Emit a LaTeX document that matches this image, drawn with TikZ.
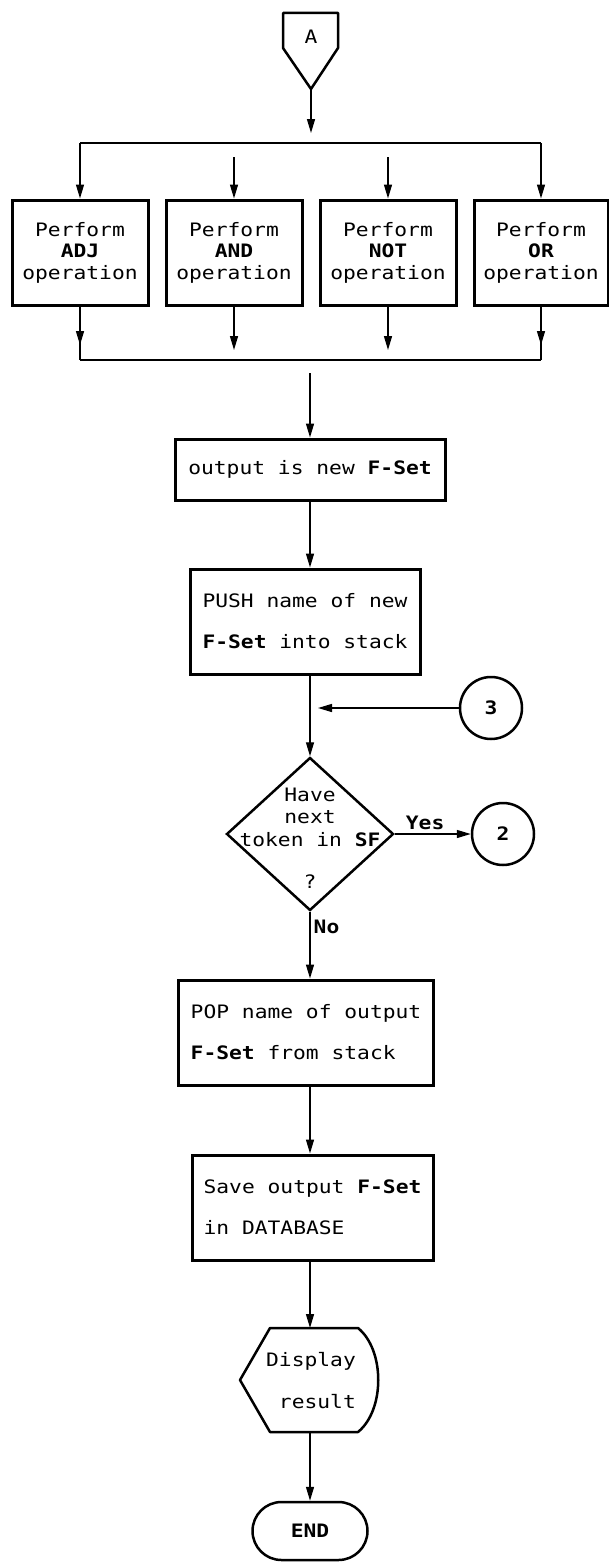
\documentclass[tikz,border=0pt]{standalone}
\usepackage{fontspec}
\newfontfamily\dm[FakeStretch=1.15]{DejaVu Sans Mono}
\usetikzlibrary{arrows.meta,shapes.geometric,shapes.misc}
\begin{document}
\begin{tikzpicture}[x=1pt,y=1pt,
  conn/.style={line width=1.4pt},
  arr/.style={conn,-{Triangle[length=14pt,width=8pt]}},
  shapeline/.style={line width=2.5pt,line join=round},
  opbox/.style={draw,line width=3pt,minimum width=136pt,minimum height=105pt,inner sep=0pt,align=center,font=\dm\fontsize{18.5}{21.5}\selectfont},
  twobox/.style={draw,line width=3pt,minimum height=105pt,inner sep=0pt,align=left,font=\dm\fontsize{18.5}{41}\selectfont},
  onebox/.style={draw,line width=3pt,minimum height=61pt,inner sep=0pt,align=center,font=\dm\fontsize{18.5}{22}\selectfont},
  conncircle/.style={circle,draw,line width=2.5pt,minimum size=62pt,inner sep=0pt,font=\dm\bfseries\fontsize{18.5}{20}\selectfont},
  lbl/.style={font=\dm\bfseries\fontsize{18.5}{20}\selectfont,inner sep=2pt},
  plain/.style={font=\dm\fontsize{18.5}{22}\selectfont,inner sep=0pt}
]
\useasboundingbox (0,0) rectangle (609,-1563);
\coordinate (spine) at (310,0);

% off-page connector A
\draw[shapeline] (283,-13) -- (338,-13) -- (338,-48) -- (311,-89) -- (283,-48) -- cycle;
\node[plain] (A) at (311,-37) {A};
\coordinate (Ap) at (311,-89);

% top bus
\coordinate (busL) at (80,-143);
\coordinate (busR) at (541,-143);
\draw[conn] (busL) -- (busR);
\draw[arr,shorten >=10pt] (Ap) -- (Ap |- busL);

% operation boxes
\node[opbox] (b1) at (80,-252.5) {Perform\\\textbf{ADJ}\\operation};
\node[opbox] (b2) at (234,-252.5) {Perform\\\textbf{AND}\\operation};
\node[opbox] (b3) at (388,-252.5) {Perform\\\textbf{NOT}\\operation};
\node[opbox,minimum width=134pt] (b4) at (541,-252.5) {Perform\\\textbf{OR}\\operation};

\draw[arr] (busL) -- (b1.north);
\draw[arr] (busR) -- (b4.north);
\draw[arr,shorten <=14pt] (b2.north |- busL) -- (b2.north);
\draw[arr,shorten <=14pt] (b3.north |- busL) -- (b3.north);

% bottom bus
\coordinate (busL2) at (80,-360);
\coordinate (busR2) at (541,-360);
\draw[conn] (busL2) -- (busR2);
\draw[conn] (b1.south) -- (busL2);
\draw[arr,shorten >=15pt] (b1.south) -- (busL2);
\draw[conn] (b4.south) -- (busR2);
\draw[arr,shorten >=15pt] (b4.south) -- (busR2);
\draw[arr,shorten >=10pt] (b2.south) -- (b2.south |- busL2);
\draw[arr,shorten >=10pt] (b3.south) -- (b3.south |- busL2);

% output box
\node[onebox,minimum width=270pt] (out) at (310,-469.5) {output is new \textbf{F-Set}};
\draw[arr,shorten <=13pt] (out.north |- busL2) -- (out.north);

% push box
\node[twobox,minimum width=230pt] (push) at (305,-621.5) {PUSH name of new\\\textbf{F-Set} into stack};
\draw[arr] (out.south) -- (out.south |- push.north);

% decision
\node[diamond,draw,line width=2.5pt,minimum width=167pt,minimum height=153pt,inner sep=0pt] (dec) at (310,-834) {};
\node[plain,align=center,font=\dm\fontsize{18.5}{22.5}\selectfont] (dect) at (310,-838) {Have\\next\\token in \textbf{SF}\\[20pt]?};
\draw[arr] (push.south -| spine) -- (dec.north);

% connector 3
\node[conncircle] (c3) at (491,-708) {3};
\draw[arr,shorten >=8pt] (c3.west) -- (c3.west -| spine);

% connector 2
\node[conncircle] (c2) at (503,-834) {2};
\draw[arr] (dec.east) -- node[lbl,above,pos=0.4,yshift=2pt] {Yes} (c2.west);

% pop box
\node[twobox,minimum width=255pt] (pop) at (306,-1032.5) {POP name of output\\\textbf{F-Set} from stack};
\draw[arr] (dec.south) -- node[lbl,right,pos=0.22,xshift=1pt] {No} (dec.south |- pop.north);

% save box
\node[twobox,minimum width=241pt] (save) at (312.5,-1207.5) {Save output \textbf{F-Set}\\in DATABASE};
\draw[arr] (pop.south -| spine) -- (save.north -| spine);

% display
\draw[shapeline] (270,-1328) -- (358,-1328) .. controls (385,-1350) and (385,-1410) .. (358,-1432) -- (270,-1432) -- (240,-1380) -- cycle;
\node[plain,align=right,font=\dm\fontsize{18.5}{42}\selectfont] (disp) at (311,-1381) {Display\\result};
\coordinate (dispN) at (310,-1328);
\coordinate (dispS) at (310,-1432);
\draw[arr] (save.south -| spine) -- (dispN);

% end
\node[rounded rectangle,draw,line width=2.5pt,minimum width=115pt,minimum height=58pt,inner sep=0pt,font=\dm\bfseries\fontsize{18.5}{20}\selectfont] (end) at (310,-1531) {END};
\draw[arr] (dispS) -- (end.north);
\end{tikzpicture}
\end{document}
